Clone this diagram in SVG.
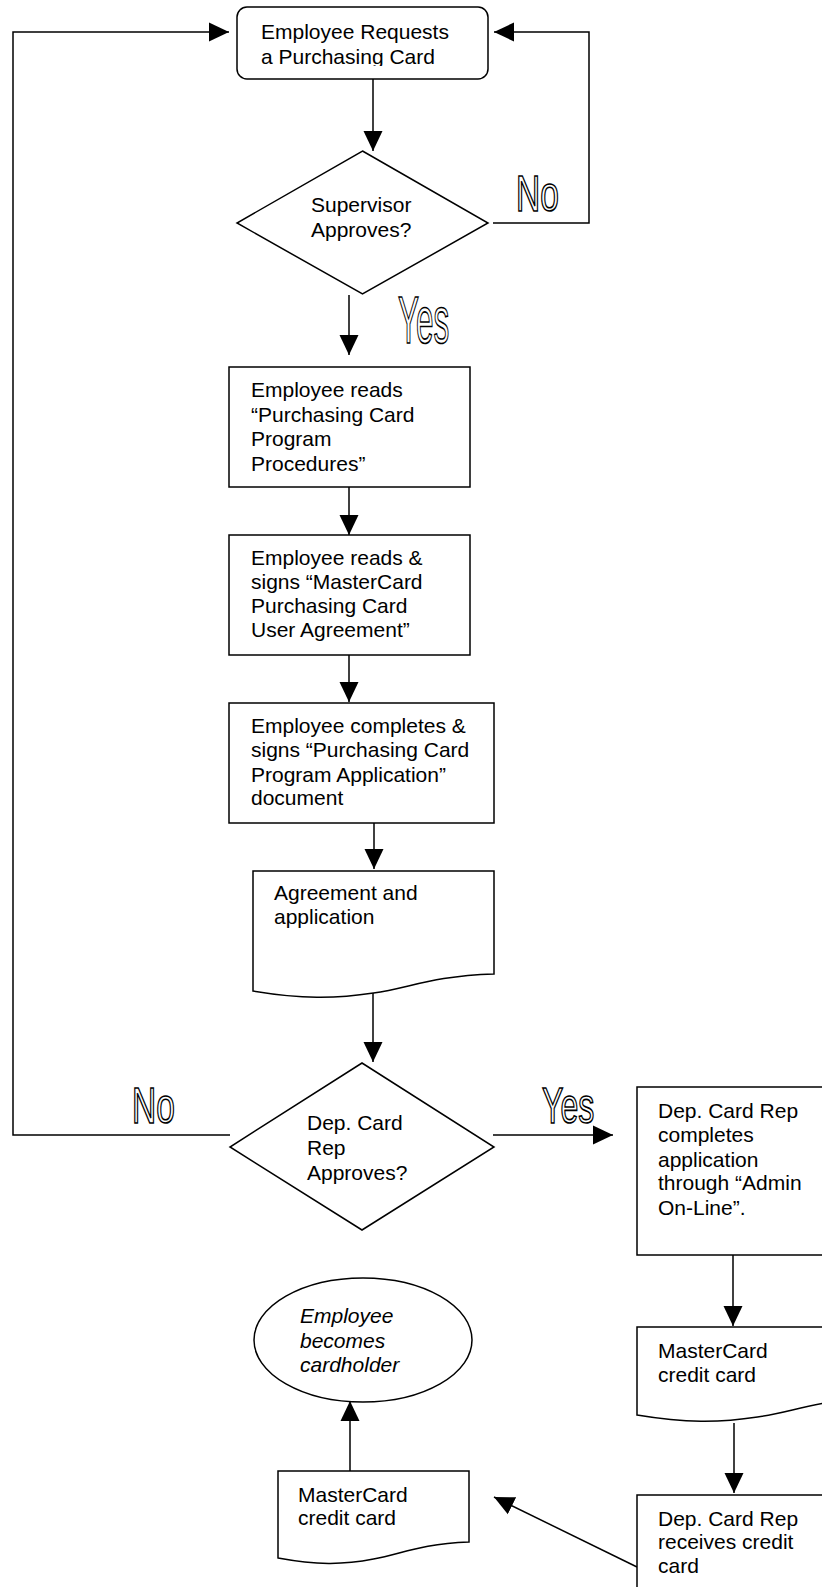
<svg xmlns="http://www.w3.org/2000/svg" width="822" height="1587" viewBox="0 0 822 1587">
<style>
.s{fill:#fff;stroke:#000;stroke-width:1.5}
.c{fill:none;stroke:#000;stroke-width:1.5}
.t{font-family:"Liberation Sans",Arial,sans-serif;font-size:21px;fill:#000}
.i{font-style:italic}
.o{font-family:"Liberation Sans",Arial,sans-serif;fill:#fff;stroke:#000;stroke-width:1.7}
</style>
<defs>
<marker id="ah" markerUnits="userSpaceOnUse" markerWidth="20" markerHeight="20" viewBox="0 0 20 20" refX="20" refY="10" orient="auto"><path d="M0,0.5 L20,10 L0,19.5 z" fill="#000"/></marker>
<clipPath id="clipStart"><rect x="237" y="7" width="251" height="59"/></clipPath>
</defs>
<rect width="822" height="1587" fill="#fff"/>

<g id="connectors">
<path class="c" d="M230,1135 H13 V32 H229" marker-end="url(#ah)"/>
<path class="c" d="M493,223 H589 V32 H494" marker-end="url(#ah)"/>
<path class="c" d="M373,79 V151" marker-end="url(#ah)"/>
<path class="c" d="M349,295 V355" marker-end="url(#ah)"/>
<path class="c" d="M349,487 V535" marker-end="url(#ah)"/>
<path class="c" d="M349,655 V702" marker-end="url(#ah)"/>
<path class="c" d="M374,823 V869" marker-end="url(#ah)"/>
<path class="c" d="M373,993 V1062" marker-end="url(#ah)"/>
<path class="c" d="M493,1135 H613" marker-end="url(#ah)"/>
<path class="c" d="M733,1255 V1326" marker-end="url(#ah)"/>
<path class="c" d="M734,1423 V1493" marker-end="url(#ah)"/>
<path class="c" d="M637,1567 L494,1497" marker-end="url(#ah)"/>
<path class="c" d="M350,1471 V1401" marker-end="url(#ah)"/>
<g transform="translate(516,211) scale(0.67,1)"><text class="o" font-size="50" x="0" y="0">No</text></g>
<g transform="translate(398,343) scale(0.47,1)"><text class="o" font-size="67" x="0" y="0">Yes</text></g>
<g transform="translate(132,1123) scale(0.67,1)"><text class="o" font-size="50" x="0" y="0">No</text></g>
<g transform="translate(542,1123) scale(0.64,1)"><text class="o" font-size="50" x="0" y="0">Yes</text></g>
</g>

<g id="start">
<rect class="s" x="237" y="7" width="251" height="72" rx="10"/>
<g clip-path="url(#clipStart)">
<text class="t" x="261" y="39">Employee Requests</text>
<text class="t" x="261" y="64">a Purchasing Card</text>
</g>
</g>

<g id="supervisor">
<polygon class="s" points="362.5,151 488,223 362.5,294 237,223"/>
<text class="t" x="311" y="212">Supervisor</text>
<text class="t" x="311" y="237">Approves?</text>
</g>

<g id="reads-procedures">
<rect class="s" x="229" y="367" width="241" height="120"/>
<text class="t" x="251" y="397">Employee reads</text>
<text class="t" x="251" y="422">“Purchasing Card</text>
<text class="t" x="251" y="446">Program</text>
<text class="t" x="251" y="471">Procedures”</text>
</g>

<g id="signs-agreement">
<rect class="s" x="229" y="535" width="241" height="120"/>
<text class="t" x="251" y="565">Employee reads &amp;</text>
<text class="t" x="251" y="589">signs “MasterCard</text>
<text class="t" x="251" y="613">Purchasing Card</text>
<text class="t" x="251" y="637">User Agreement”</text>
</g>

<g id="completes-application">
<rect class="s" x="229" y="703" width="265" height="120"/>
<text class="t" x="251" y="733">Employee completes &amp;</text>
<text class="t" x="251" y="757">signs “Purchasing Card</text>
<text class="t" x="251" y="782">Program Application”</text>
<text class="t" x="251" y="805">document</text>
</g>

<g id="agreement-doc">
<path class="s" d="M253,871 H494 V974 C431,976 410,988 373.5,993 C335,999 301,999 253,991 Z"/>
<text class="t" x="274" y="900">Agreement and</text>
<text class="t" x="274" y="924">application</text>
</g>

<g id="rep-approves">
<polygon class="s" points="362,1063 494,1147 362,1230 230,1147"/>
<text class="t" x="307" y="1130">Dep. Card</text>
<text class="t" x="307" y="1155">Rep</text>
<text class="t" x="307" y="1180">Approves?</text>
</g>

<g id="rep-completes">
<rect class="s" x="637" y="1087" width="200" height="168"/>
<text class="t" x="658" y="1118">Dep. Card Rep</text>
<text class="t" x="658" y="1142">completes</text>
<text class="t" x="658" y="1167">application</text>
<text class="t" x="658" y="1190">through “Admin</text>
<text class="t" x="658" y="1215">On-Line”.</text>
</g>

<g id="mastercard-doc-right">
<path class="s" d="M637,1327 H878 V1398 C815,1400 794,1412 757.5,1417 C719,1423 685,1423 637,1415 Z"/>
<text class="t" x="658" y="1358">MasterCard</text>
<text class="t" x="658" y="1382">credit card</text>
</g>

<g id="rep-receives">
<rect class="s" x="637" y="1495" width="200" height="120"/>
<text class="t" x="658" y="1526">Dep. Card Rep</text>
<text class="t" x="658" y="1549">receives credit</text>
<text class="t" x="658" y="1573">card</text>
</g>

<g id="mastercard-doc-left">
<path class="s" d="M278,1471 H469 V1542 C419,1544 402,1554 373.5,1559 C343,1565 316,1565 278,1558 Z"/>
<text class="t" x="298" y="1502">MasterCard</text>
<text class="t" x="298" y="1525">credit card</text>
</g>

<g id="cardholder">
<ellipse class="s" cx="363" cy="1340" rx="109" ry="62"/>
<text class="t i" x="300" y="1323">Employee</text>
<text class="t i" x="300" y="1348">becomes</text>
<text class="t i" x="300" y="1372">cardholder</text>
</g>
</svg>
